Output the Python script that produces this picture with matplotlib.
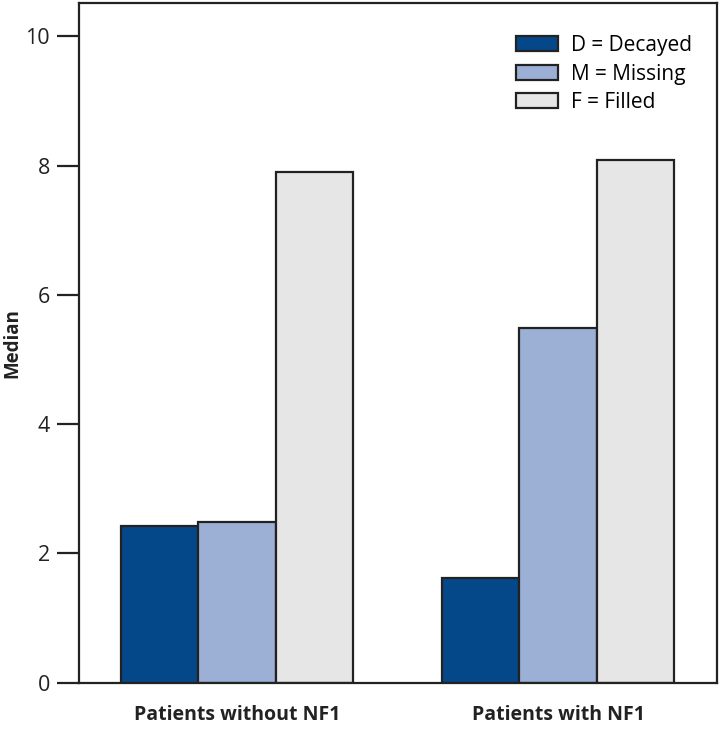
import numpy as np
import matplotlib
matplotlib.use("Agg")
import matplotlib.pyplot as plt

groups = ['Patients without NF1', 'Patients with NF1']
series = ['D = Decayed', 'M = Missing', 'F = Filled']
decayed = [2.43, 1.62]
missing = [2.48, 5.48]
filled = [7.90, 8.08]
yticks = [0, 2, 4, 6, 8, 10]

colors = ['#05488a', '#9cb0d6', '#e6e6e6']

plt.rcParams['font.family'] = ['Open Sans', 'DejaVu Sans']

fig = plt.figure(figsize=(7.2, 7.3), dpi=100)
ax = fig.add_axes([0.110, 0.0648, 0.8854, 0.9315])

x = np.arange(len(groups))
w = 0.2414
for i, (vals, lab) in enumerate(zip([decayed, missing, filled], series)):
    ax.bar(x + (i - 1) * w, vals, w, color=colors[i], edgecolor='#222222',
           linewidth=1.6, label=lab)

ax.set_xlim(-0.491, 1.494)
ax.set_ylim(0, 10.52)
ax.set_yticks(yticks)
ax.set_xticks(x)
ax.set_xticklabels(groups, fontsize=14, fontweight='bold', color='#222222')
ax.tick_params(axis='x', length=0, pad=16)
ax.tick_params(axis='y', length=16, width=1.6, direction='out', labelsize=15.5,
               pad=5, color='#222222', labelcolor='#222222')
for s in ax.spines.values():
    s.set_linewidth(1.6)
    s.set_color('#222222')

ax.set_ylabel('Median', fontsize=13.5, fontweight='bold', color='#222222', va='center')
ax.yaxis.set_label_coords(-0.105, 0.5)

leg = ax.legend(loc='upper right', bbox_to_anchor=(0.99, 0.98), frameon=False,
                fontsize=15, handlelength=2.0, handleheight=0.72, handletextpad=0.6,
                labelspacing=0.36)

fig.savefig('out.png', dpi=100)
